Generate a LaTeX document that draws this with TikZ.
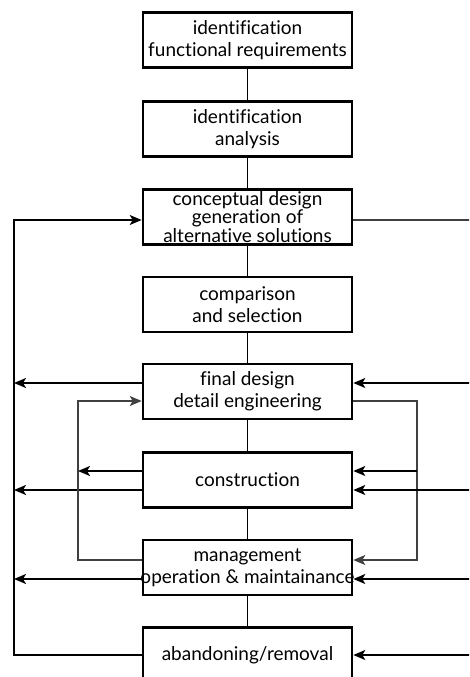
\documentclass[tikz,border=0pt]{standalone}
\usepackage{fontspec}
\setmainfont{Lato}[Ligatures=NoCommon]
\usetikzlibrary{arrows.meta}
\begin{document}
\begin{tikzpicture}[x=1pt,y=-1pt,
  box/.style={draw, line width=2.6pt, minimum width=209pt, minimum height=55pt,
    align=center, inner sep=0pt, font=\fontsize{19}{22}\selectfont},
  tight/.style={font=\fontsize{19}{16}\selectfont},
  link/.style={line width=1.8pt},
  loopln/.style={line width=1.3pt, draw=black!75},
  tip/.style={-{Stealth[length=12pt,width=10pt,inset=3pt]}}]
\clip (0,0) rectangle (469,677);
\fill[white] (0,0) rectangle (469,677);
% guides
\coordinate (L) at (14,0);
\coordinate (IL) at (78,0);
\coordinate (IR) at (417,0);
\coordinate (R) at (475,0);
\coordinate (y220) at (0,220);
\coordinate (y383) at (0,383);
\coordinate (y401) at (0,401);
\coordinate (y471) at (0,471);
\coordinate (y490) at (0,490);
\coordinate (y560) at (0,560);
\coordinate (y579) at (0,579);
\coordinate (y655) at (0,655);
% boxes
\node[box] (b1) at (247.5,40) {identification\\functional requirements};
\node[box] (b2) at (247.5,129) {identification\\analysis};
\node[box,tight] (b3) at (247.5,217) {conceptual design\\generation of\\alternative solutions};
\node[box] (b4) at (247.5,304.5) {comparison\\and selection};
\node[box] (b5) at (247.5,391.5) {final design\\detail engineering};
\node[box] (b6) at (247.5,480) {construction};
\node[box] (b7) at (247.5,567.5) {management\\\makebox[180pt]{operation \& maintainance}};
\node[box] (b8) at (247.5,655) {abandoning/removal};
% main chain
\draw[link] (b1) -- (b2);
\draw[link] (b2) -- (b3);
\draw[link] (b3) -- (b4);
\draw[link] (b4) -- (b5);
\draw[link] (b5) -- (b6);
\draw[link] (b6) -- (b7);
\draw[link] (b7) -- (b8);
% outer left
\draw[link,tip] (b8.west) -- (L |- b8.west) -- (L |- y220) -- (b3.west |- y220);
\draw[link,tip] (b5.west |- y383) -- (L |- y383);
\draw[link,tip] (b6.west |- y490) -- (L |- y490);
\draw[link,tip] (b7.west |- y579) -- (L |- y579);
% inner left
\draw[loopln,tip] (b7.west |- y560) -- (IL |- y560) -- (IL |- y401) -- (b5.west |- y401);
\draw[link,tip] (b6.west |- y471) -- (IL |- y471);
% inner right
\draw[loopln,tip] (b5.east |- y401) -- (IR |- y401) -- (IR |- y560) -- (b7.east |- y560);
\draw[link,tip] (IR |- y471) -- (b6.east |- y471);
% outer right
\draw[loopln] (b3.east |- y220) -- (R |- y220);
\draw[link,tip] (R |- y383) -- (b5.east |- y383);
\draw[link,tip] (R |- y490) -- (b6.east |- y490);
\draw[link,tip] (R |- y579) -- (b7.east |- y579);
\draw[link,tip] (R |- y655) -- (b8.east |- y655);
\end{tikzpicture}
\end{document}
